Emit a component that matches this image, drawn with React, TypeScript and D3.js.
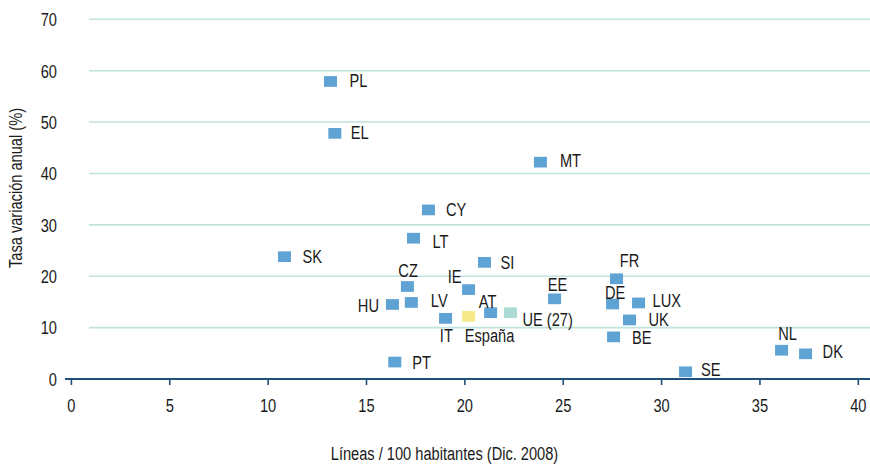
import React from "react";
import * as d3 from "d3";

const countries = ["PL","EL","MT","CY","LT","SK","SI","CZ","IE","FR","EE","DE","LUX","HU","LV","AT","UE (27)","España","IT","UK","BE","NL","DK","PT","SE"];
const lineas = [13.17,13.39,23.84,18.15,17.39,10.83,21.0,17.08,20.19,27.71,24.56,27.51,28.83,16.32,17.28,21.31,22.32,20.19,19.02,28.37,27.56,36.10,37.32,16.44,31.22];
const tasa = [57.9,47.8,42.2,32.9,27.4,23.8,22.7,18.0,17.4,19.5,15.6,14.6,14.8,14.5,14.9,12.9,12.9,12.2,11.8,11.5,8.2,5.6,4.9,3.3,1.4];
const xTicks = [0,5,10,15,20,25,30,35,40];
const yTicks = [0,10,20,30,40,50,60,70];
const xTitle = "Líneas / 100 habitantes (Dic. 2008)";
const yTitle = "Tasa variación anual (%)";

// label placement (dx, dy from marker centre, text-anchor)
const labelPlace: Record<string, [number, number, string]> = {
  "PL": [19, -1, "start"],
  "EL": [16, -1.5, "start"],
  "MT": [19.5, -2, "start"],
  "CY": [17.5, -0.5, "start"],
  "LT": [19, 3, "start"],
  "SK": [18, -1, "start"],
  "SI": [16, 0, "start"],
  "CZ": [0.7, -16, "middle"],
  "IE": [-14, -13, "middle"],
  "FR": [13, -18.5, "middle"],
  "EE": [3, -15, "middle"],
  "DE": [2.5, -11.5, "middle"],
  "LUX": [14, -3, "start"],
  "HU": [-13.5, 0.5, "end"],
  "LV": [19.5, -2.5, "start"],
  "AT": [-3, -12, "middle"],
  "UE (27)": [12, 6, "start"],
  "España": [21, 19, "middle"],
  "IT": [0.8, 16.7, "middle"],
  "UK": [19, -0.5, "start"],
  "BE": [18.5, 0.5, "start"],
  "NL": [6, -16.7, "middle"],
  "DK": [17, -2.3, "start"],
  "PT": [17.5, 0.5, "start"],
  "SE": [15.5, -2.7, "start"],
};

const W = 870, H = 465;
const FONT = "'Liberation Sans', Arial, sans-serif";
const SX = 0.77;

function T({ x, y, rot = 0, anchor = "start", size = 19, children }: any) {
  return (
    <text
      transform={`translate(${x},${y})${rot ? ` rotate(${rot})` : ""} scale(${SX},1)`}
      dy="0.36em"
      textAnchor={anchor}
      fontSize={size}
      fill="#1a1a1a"
    >
      {children}
    </text>
  );
}

export default function App() {
  const x = d3.scaleLinear().domain([0, 40]).range([71.4, 858.3]);
  const y = d3.scaleLinear().domain([0, 70]).range([379, 19.3]);
  const colorFor = (c: string) => c === "España" ? "#f6e98a" : c === "UE (27)" ? "#acdbd3" : "#5fa2d4";
  const mw = 13, mh = 10.7;
  return (
    <svg width={W} height={H} style={{ position: "absolute", left: 0, top: 0, background: "#fff" }} fontFamily={FONT}>
      {yTicks.filter(t => t > 0).map(t => (
        <line key={"g" + t} x1={89} x2={W} y1={y(t)} y2={y(t)} stroke="#c2e2de" strokeWidth={1.6} />
      ))}
      {yTicks.map(t => (
        <T key={"yt" + t} x={57} y={y(t)} anchor="end">{t}</T>
      ))}
      <line x1={65} x2={W} y1={y(0)} y2={y(0)} stroke="#1d4f7c" strokeWidth={2} />
      {xTicks.map(t => (
        <g key={"xt" + t}>
          <line x1={x(t)} x2={x(t)} y1={y(0)} y2={y(0) + 6} stroke="#1d4f7c" strokeWidth={1.6} />
          <T x={x(t)} y={405} anchor="middle">{t}</T>
        </g>
      ))}
      <T x={444.5} y={453} anchor="middle">{xTitle}</T>
      <T x={15} y={188} rot={-90} anchor="middle">{yTitle}</T>
      {countries.map((c, i) => (
        <rect key={"m" + c} x={x(lineas[i]) - mw / 2} y={y(tasa[i]) - mh / 2} width={mw} height={mh} fill={colorFor(c)} />
      ))}
      {countries.map((c, i) => {
        const [dx, dy, anchor] = labelPlace[c];
        return (
          <T key={"l" + c} x={x(lineas[i]) + dx} y={y(tasa[i]) + dy} anchor={anchor}>{c}</T>
        );
      })}
    </svg>
  );
}
